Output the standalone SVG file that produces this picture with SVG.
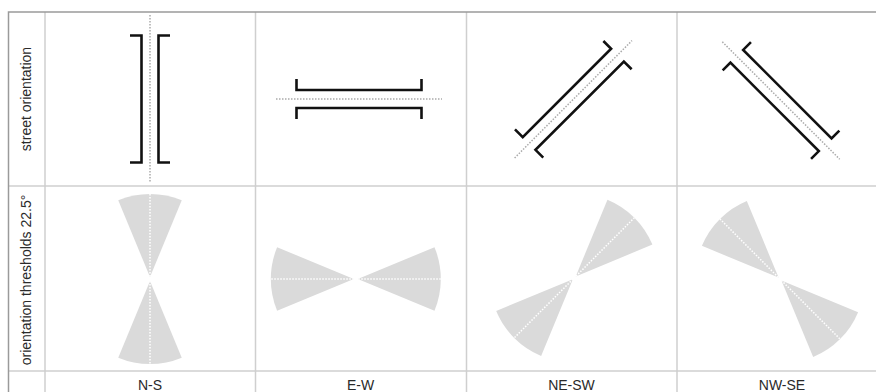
<svg xmlns="http://www.w3.org/2000/svg" width="876" height="392" viewBox="0 0 876 392">
<style>
.frame{stroke:#9a9a9a;stroke-width:1.5;fill:none}
.grid{stroke:#cfcfcf;stroke-width:1.5;fill:none}
.dot{stroke:#aaaaaa;stroke-width:1.5;stroke-dasharray:1.5 1.5;fill:none}
.br{stroke:#111;stroke-width:2.6;fill:none;stroke-linejoin:miter}
.wedge{fill:#dadada}
.wdot{stroke:#fff;stroke-width:1.5;stroke-dasharray:1.5 1.5;fill:none}
.lbl{font-family:"Liberation Sans",Arial,sans-serif;font-size:14px;fill:#2a2a2a;text-anchor:middle}
</style>
<rect x="0" y="0" width="876" height="392" fill="#fff"/>
<g id="grid">
<path class="grid" d="M45,12 V392 M255.5,12 V392 M466.5,12 V392 M677,12 V392 M8.5,186 H876 M8.5,371 H876"/>
<path class="frame" d="M8.5,392 V12 H876"/>
</g>
<g id="row-labels">
<text class="lbl" transform="translate(31,99) rotate(-90)">street orientation</text>
<text class="lbl" transform="translate(31,280) rotate(-90)">orientation thresholds 22.5°</text>
</g>
<g id="street-ns" transform="translate(150,99) rotate(90)">
<path class="dot" d="M-84,0 H84"/>
<path class="br" d="M-63.5,-20 V-8.5 H63.5 V-20 M-63.5,20 V8.5 H63.5 V20"/>
</g>
<g id="street-ew" transform="translate(359,99)">
<path class="dot" d="M-83,0 H83"/>
<path class="br" d="M-62.5,-20 V-9 H62.5 V-20 M-62.5,20 V9 H62.5 V20"/>
</g>
<g id="street-nesw" transform="translate(573.3,99.3) rotate(-45)">
<path class="dot" d="M-83,0 H83"/>
<path class="br" d="M-62.5,-20 V-9 H62.5 V-20 M-62.5,20 V9 H62.5 V20"/>
</g>
<g id="street-nwse" transform="translate(781,100.5) rotate(45)">
<path class="dot" d="M-83,0 H83"/>
<path class="br" d="M-62.5,-20 V-9 H62.5 V-20 M-62.5,20 V9 H62.5 V20"/>
</g>
<g id="thr-ns" transform="translate(150,279) rotate(0)">
<path class="wedge" d="M0,-2 L-31.76,-78.68 A83,83 0 0 1 31.76,-78.68 Z"/>
<path class="wedge" d="M0,2 L-31.76,78.68 A83,83 0 0 0 31.76,78.68 Z"/>
<path class="wdot" d="M0,-85 V85"/>
</g>
<g id="thr-ew" transform="translate(355.8,279) rotate(90)">
<path class="wedge" d="M0,-2 L-31.76,-78.68 A83,83 0 0 1 31.76,-78.68 Z"/>
<path class="wedge" d="M0,2 L-31.76,78.68 A83,83 0 0 0 31.76,78.68 Z"/>
<path class="wdot" d="M0,-85 V85"/>
</g>
<g id="thr-nesw" transform="translate(574.3,277.8) rotate(45)">
<path class="wedge" d="M0,-2 L-31.76,-78.68 A83,83 0 0 1 31.76,-78.68 Z"/>
<path class="wedge" d="M0,2 L-31.76,78.68 A83,83 0 0 0 31.76,78.68 Z"/>
<path class="wdot" d="M0,-85 V85"/>
</g>
<g id="thr-nwse" transform="translate(780,279) rotate(-45)">
<path class="wedge" d="M0,-2 L-31.76,-78.68 A83,83 0 0 1 31.76,-78.68 Z"/>
<path class="wedge" d="M0,2 L-31.76,78.68 A83,83 0 0 0 31.76,78.68 Z"/>
<path class="wdot" d="M0,-85 V85"/>
</g>
<g id="col-labels">
<text class="lbl" x="150" y="390">N-S</text>
<text class="lbl" x="360.5" y="390">E-W</text>
<text class="lbl" x="571.5" y="390">NE-SW</text>
<text class="lbl" x="782" y="390">NW-SE</text>
</g>
</svg>
